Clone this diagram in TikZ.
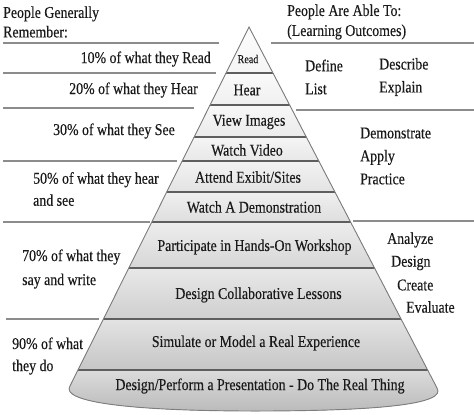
\documentclass[tikz,border=0pt]{standalone}
\usepackage{fontspec}
\setmainfont[FakeStretch=0.84,FakeBold=0.3]{Liberation Serif}
\usetikzlibrary{calc}
\definecolor{ink}{HTML}{1A1A1A}
\definecolor{rule}{HTML}{8C8C8C}
\definecolor{edge}{HTML}{5E5E5E}
\tikzset{
  txt/.style={font=\fontsize{16.5}{22}\selectfont,text=ink,inner sep=0pt},
  lft/.style={txt,anchor=west,align=left},
  rgt/.style={txt,anchor=east,align=right},
  sep/.style={draw=rule,line width=1.6pt},
  row/.style={draw=edge,line width=1.1pt},
}

\begin{document}
\begin{tikzpicture}[x=1pt,y=-1pt]
  \useasboundingbox[fill=white] (0,0) rectangle (474,415);
  \coordinate (apex) at (249,27);
  \coordinate (bl) at (70,386);
  \coordinate (br) at (437,388);
  % pyramid body, one shaded band per level
  \begin{scope}
    \clip (apex) -- (br) .. controls (447,404) and (380,411) .. (255,411)
      .. controls (130,411) and (60,402) .. (bl) -- cycle;
    \foreach \ya/\yb/\ca/\cb in {27/73/2/8,73/105/4/12,105/137/6/16,137/161/8/18,
        161/192/10/22,192/222/12/26,222/268/14/32,268/319/18/38,319/370/22/45,370/415/28/56}
      \fill[top color=gray!\ca,bottom color=gray!\cb] (0,\ya) rectangle (474,\yb);
    \foreach \y in {73,105,137,161,192,222,268,319,370}
      \draw[row] (0,\y) -- (474,\y);
  \end{scope}
  \draw[draw=edge!80,line width=.9pt]
    (apex) -- (br) .. controls (447,404) and (380,411) .. (255,411)
    .. controls (130,411) and (60,402) .. (bl) -- cycle;

  % separators
  \draw[sep] (3,43) -- (219,43);
  \draw[sep] (271,43) -- (474,43);
  \draw[sep] (3,73) -- (216,73);
  \draw[sep] (3,108) -- (194,108);
  \draw[sep] (296,110) -- (474,110);
  \draw[sep] (3,161) -- (177,161);
  \draw[sep] (3,222) -- (150,222);
  \draw[sep] (353,221) -- (474,221);
  \draw[sep] (6,319) -- (99,319);

  % headers
  \node[lft,font=\fontsize{16.5}{19.5}\selectfont] (remember) at (3,22) {People Generally\\Remember:};
  \node[lft,font=\fontsize{16.5}{20}\selectfont] (able) at (287,22) {People Are Able To:\\(Learning Outcomes)};

  % what people remember
  \node[rgt] (p10) at (211,59) {10\% of what they Read};
  \node[rgt] (p20) at (198,90) {20\% of what they Hear};
  \node[rgt] (p30) at (175,131) {30\% of what they See};
  \node[lft] (p50) at (33,189) {50\% of what they hear\\and see};
  \node[lft,font=\fontsize{16.5}{24}\selectfont] (p70) at (22,269) {70\% of what they\\say and write};
  \node[lft] (p90) at (12,356) {90\% of what\\they do};

  % pyramid levels
  \node[txt,font=\fontsize{12}{12}\selectfont] (read) at (248,59) {Read};
  \node[txt] (hear) at (247,90) {Hear};
  \node[txt] (images) at (249,122) {View Images};
  \node[txt] (video) at (247,150) {Watch Video};
  \node[txt] (attend) at (248,177) {Attend Exibit/Sites};
  \node[txt] (demo) at (254,207) {Watch A Demonstration};
  \node[txt] (workshop) at (254.5,247) {Participate in Hands-On Workshop};
  \node[txt] (lessons) at (258.5,295) {Design Collaborative Lessons};
  \node[txt] (simulate) at (256,343) {Simulate or Model a Real Experience};
  \node[txt] (realthing) at (260,386) {Design/Perform a Presentation - Do The Real Thing};

  % learning outcomes
  \node[lft,font=\fontsize{16.5}{23}\selectfont] (define) at (305,77) {Define\\List};
  \node[lft,font=\fontsize{16.5}{23}\selectfont] (describe) at (379,77) {Describe\\Explain};
  \node[lft,font=\fontsize{16.5}{23}\selectfont] (apply) at (360,156) {Demonstrate\\Apply\\Practice};
  \node[lft] (analyze) at (387,240) {Analyze};
  \node[lft] (design) at (391,263) {Design};
  \node[lft] (create) at (397,285) {Create};
  \node[lft] (evaluate) at (406,307) {Evaluate};
\end{tikzpicture}
\end{document}
